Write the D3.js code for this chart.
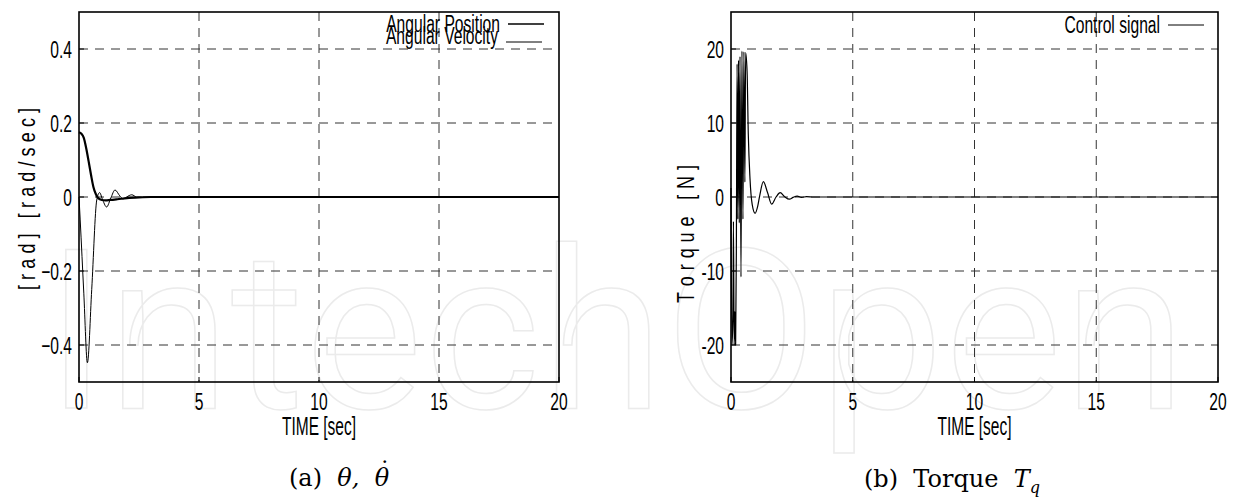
<!DOCTYPE html>
<html>
<head>
<meta charset="utf-8">
<script src="https://cdn.jsdelivr.net/npm/d3@7"></script>
<style>
  body { margin: 0; background: #fff; }
  svg { display: block; }
  text { font-family: "Liberation Sans", Arial, sans-serif; fill: #000; white-space: pre; }
  .cap { font-family: "DejaVu Serif", "Liberation Serif", serif; }
</style>
</head>
<body>
<svg id="chart" width="1238" height="497"></svg>
<script>
// ---- data ----
const timeTicks = [0, 5, 10, 15, 20];
const angleTicks = [-0.4, -0.2, 0, 0.2, 0.4];
const torqueTicks = [-20, -10, 0, 10, 20];

// angular position [rad]
const posT = [0, 0.1, 0.2, 0.3, 0.4, 0.5, 0.6, 0.7, 0.8, 0.95, 1.1, 1.3, 1.6, 2.0, 2.5, 3.0, 20];
const posV = [0.175, 0.171, 0.16, 0.132, 0.097, 0.06, 0.027, 0.008, -0.003, -0.008, -0.009, -0.008, -0.006, -0.003, -0.001, 0, 0];

// angular velocity [rad/sec]
const velT = [0, 0.05, 0.2, 0.35, 0.53, 0.74, 0.86, 0.97, 1.15, 1.33, 1.5, 1.7, 1.83, 1.98, 2.2, 2.4, 2.7, 3.1, 20];
const velV = [0, -0.062, -0.26, -0.448, -0.25, -0.008, 0.012, -0.005, -0.027, -0.002, 0.019, 0.003, -0.005, 0.0, 0.006, 0.0, -0.001, 0, 0];

// control signal [N]
const ctrlT = [0, 0.04, 0.08, 0.1, 0.13, 0.16, 0.19, 0.22, 0.25, 0.28, 0.31, 0.34, 0.37, 0.41, 0.45, 0.49, 0.53, 0.57, 0.6, 0.66, 0.71,
               0.78, 0.87, 0.99, 1.1, 1.18, 1.33, 1.5, 1.67, 1.85, 2.02, 2.2, 2.4, 2.55, 2.72, 2.9, 3.1, 3.4, 20];
const ctrlV = [1.2, -20, -16, -3.3, -20, -15.5, -20, -7, 18, -3, 18.5, -3.5, 19, -10.8, 19.7, -3, 19.6, 2, 19.5, 17, 8.5,
               2.5, -1, -2.2, -1.2, 0.2, 2.07, 0.6, -0.95, 0, 0.58, 0.05, -0.3, -0.05, 0.13, -0.05, 0.05, 0, 0];

const svg = d3.select("#chart");

// faint publisher watermark behind the plots
svg.append("text")
  .attr("x", 46).attr("y", 408)
  .attr("textLength", 1140).attr("lengthAdjust", "spacing")
  .style("font-family", "Roboto, sans-serif")
  .style("font-size", "222px")
  .style("fill", "none")
  .style("stroke", "#ebebeb")
  .style("stroke-width", 1.5)
  .text("IntechOpen");

// condensed text: squeeze horizontally like the narrow plot font
function ctext(g, x, y, str, size, sx, anchor) {
  return g.append("text")
    .attr("transform", `translate(${x},${y}) scale(${sx},1)`)
    .attr("text-anchor", anchor || "middle")
    .style("font-size", size + "px")
    .text(str);
}

function panel(cfg) {
  const g = svg.append("g");
  const x = d3.scaleLinear().domain([0, 20]).range([cfg.left, cfg.right]);
  const y = d3.scaleLinear().domain(cfg.ydom).range([382, 12]);

  // dashed grid
  g.selectAll(".vg").data(timeTicks.slice(1, -1)).enter().append("line")
    .attr("x1", d => x(d)).attr("x2", d => x(d))
    .attr("y1", y.range()[1]).attr("y2", y.range()[0])
    .attr("stroke", "#333").attr("stroke-width", 1).attr("stroke-dasharray", "9,7");
  g.selectAll(".hg").data(cfg.yticks).enter().append("line")
    .attr("x1", x(0)).attr("x2", x(20))
    .attr("y1", d => y(d)).attr("y2", d => y(d))
    .attr("stroke", "#333").attr("stroke-width", 1).attr("stroke-dasharray", "9,7");

  // small inner ticks
  g.selectAll(".xt").data(timeTicks).enter().append("line")
    .attr("x1", d => x(d)).attr("x2", d => x(d))
    .attr("y1", 382).attr("y2", 377).attr("stroke", "#000");
  g.selectAll(".yt").data(cfg.yticks).enter().append("line")
    .attr("x1", x(0)).attr("x2", x(0) + 5)
    .attr("y1", d => y(d)).attr("y2", d => y(d)).attr("stroke", "#000");

  // frame
  g.append("rect")
    .attr("x", x(0)).attr("y", 12)
    .attr("width", x(20) - x(0)).attr("height", 370)
    .attr("fill", "none").attr("stroke", "#000").attr("stroke-width", 1.6);

  // tick labels
  timeTicks.forEach(t => ctext(g, x(t), 410, String(t), 24, 0.65));
  cfg.yticks.forEach(v => ctext(g, x(0) - 7, y(v) + 9, cfg.fmt(v), 24, 0.65, "end"));

  ctext(g, (x(0) + x(20)) / 2, 435, "TIME [sec]", 25, 0.62);

  // rotated, letter-spaced y label: spacing chosen to reach the measured length
  const sq = 0.75;
  const yl = g.append("text")
    .attr("transform", `translate(${cfg.ylabX},${cfg.ylabY}) rotate(-90) scale(${sq},1)`)
    .attr("text-anchor", "middle")
    .style("font-size", "24px");
  const chars = cfg.ylab.split("");
  yl.text(cfg.ylab);
  const base = yl.node().getComputedTextLength();
  const gap = (cfg.ylabLen / sq - base) / (chars.length - 1);
  yl.text(null);
  // one tspan per character, each shifted by the extra gap
  chars.forEach((c, i) => yl.append("tspan").attr("dx", i === 0 ? 0 : gap).text(c));

  // series
  cfg.series.forEach(s => {
    const pts = s.t.map((t, i) => [t, s.v[i]]);
    g.append("path")
      .attr("d", d3.line().x(d => x(d[0])).y(d => y(d[1])).curve(d3.curveMonotoneX)(pts))
      .attr("fill", "none").attr("stroke", "#000").attr("stroke-width", s.w)
      .attr("stroke-linejoin", "round");
    ctext(g, s.lx, s.ly, s.name, 23, 0.68, "end");
    g.append("line")
      .attr("x1", s.lx + 8).attr("x2", s.lx + 44)
      .attr("y1", s.lly).attr("y2", s.lly)
      .attr("stroke", "#000").attr("stroke-width", s.w > 1.5 ? 1.5 : 1);
  });

  return { g, x };
}

const fmtA = v => v === 0 ? "0" : d3.format(".1f")(v);

panel({
  left: 79, right: 559, ydom: [-0.5, 0.5], yticks: angleTicks, fmt: fmtA,
  ylab: "[rad] [rad/sec]", ylabX: 35, ylabY: 199, ylabLen: 182,
  series: [
    { name: "Angular Position", t: posT, v: posV, w: 2.2, lx: 500, ly: 32, lly: 24 },
    { name: "Angular Velocity", t: velT, v: velV, w: 1, lx: 498, ly: 44, lly: 42 }
  ]
});

panel({
  left: 731, right: 1218, ydom: [-25, 25], yticks: torqueTicks, fmt: v => String(v),
  ylab: "Torque [N]", ylabX: 694, ylabY: 234, ylabLen: 136,
  series: [
    { name: "Control signal", t: ctrlT, v: ctrlV, w: 1.2, lx: 1160, ly: 33, lly: 25 }
  ]
});

// captions under each panel
const capA = svg.append("text").attr("class", "cap").attr("x", 289).attr("y", 486).style("font-size", "24px");
capA.append("tspan").text("(a)  ");
capA.append("tspan").style("font-style", "italic").text("θ,  ");
const th2 = capA.append("tspan").style("font-style", "italic").text("θ");
// dot above the second theta
const bb = th2.node().getExtentOfChar(0);
svg.append("text").attr("class", "cap")
  .attr("x", bb.x + bb.width / 2 + 3).attr("y", 479)
  .attr("text-anchor", "middle").style("font-size", "24px").text("˙");

const capB = svg.append("text").attr("class", "cap").attr("x", 864).attr("y", 487).style("font-size", "24px");
capB.append("tspan").text("(b)  Torque  ");
capB.append("tspan").style("font-style", "italic").text("T");
capB.append("tspan").style("font-style", "italic").style("font-size", "16px").attr("dy", 6).text("q");
</script>
</body>
</html>
